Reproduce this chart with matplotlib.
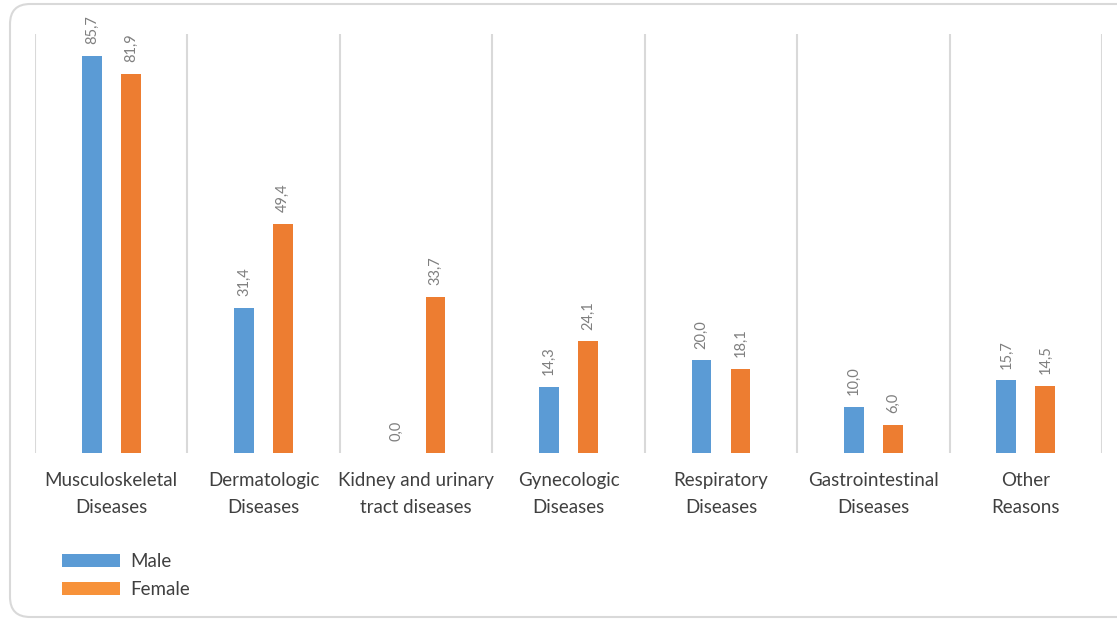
import matplotlib

matplotlib.use("Agg")

import matplotlib.pyplot as plt
import numpy as np
from matplotlib.patches import FancyBboxPatch

categories = [
    "Musculoskeletal\nDiseases",
    "Dermatologic\nDiseases",
    "Kidney and urinary\ntract diseases",
    "Gynecologic\nDiseases",
    "Respiratory\nDiseases",
    "Gastrointestinal\nDiseases",
    "Other\nReasons",
]
male = [85.7, 31.4, 0.0, 14.3, 20.0, 10.0, 15.7]
female = [81.9, 49.4, 33.7, 24.1, 18.1, 6.0, 14.5]
series_names = ["Male", "Female"]

BLUE = "#5B9BD5"
ORANGE = "#ED7D31"
LEGEND_ORANGE = "#F7923A"
GRID = "#D9D9D9"
LABEL_GRAY = "#7F7F7F"
TEXT = "#404040"

plt.rcParams["font.family"] = ["Lato", "DejaVu Sans"]

W, H = 1117, 623
fig = plt.figure(figsize=(W / 100, H / 100), dpi=100)

# rounded chart frame
frame = FancyBboxPatch(
    (10 / W, 6 / H), 1.2, (619 - 6) / H,
    boxstyle="round,pad=0,rounding_size=0.018",
    transform=fig.transFigure, facecolor="none", edgecolor=GRID,
    linewidth=1.5, mutation_aspect=W / H, zorder=-1,
)
fig.patches.append(frame)

ax = fig.add_axes([35 / W, (H - 453) / H, (1102 - 35) / W, (453 - 34) / H])
ax.set_facecolor("none")

x = np.arange(len(categories))
width = 0.13
offset = 0.128
bars_m = ax.bar(x - offset, male, width, color=BLUE, label=series_names[0], zorder=3)
bars_f = ax.bar(x + offset, female, width, color=ORANGE, label=series_names[1], zorder=3)

for bars in (bars_m, bars_f):
    for b in bars:
        v = b.get_height()
        ax.annotate(
            f"{v:.1f}".replace(".", ","),
            (b.get_x() + b.get_width() / 2, v),
            xytext=(0, 8.5), textcoords="offset points",
            rotation=90, ha="center", va="bottom",
            fontsize=10.5, color=LABEL_GRAY,
        )

ax.set_xlim(-0.5, len(categories) - 0.5)
ax.set_ylim(0, 90.5)

# vertical separators between categories
for b in np.arange(-0.5, len(categories), 1.0):
    ax.axvline(b, color=GRID, linewidth=1.5, zorder=1)

ax.set_xticks(x)
ax.set_xticklabels(categories, fontsize=13.5, color=TEXT, linespacing=1.7)
ax.tick_params(axis="x", length=0, pad=14)
ax.set_yticks([])
for s in ax.spines.values():
    s.set_visible(False)

leg = fig.legend(
    handles=[bars_m, bars_f], labels=series_names,
    loc="upper left", bbox_to_anchor=(62 / W, 1 - 553 / H),
    frameon=False, fontsize=13.5, borderpad=0, borderaxespad=0,
    handlelength=3.1, handleheight=0.64, handletextpad=0.53,
    labelspacing=0.6, labelcolor=TEXT,
)
leg.legend_handles[1].set_facecolor(LEGEND_ORANGE)

fig.savefig("out.png", dpi=100)
